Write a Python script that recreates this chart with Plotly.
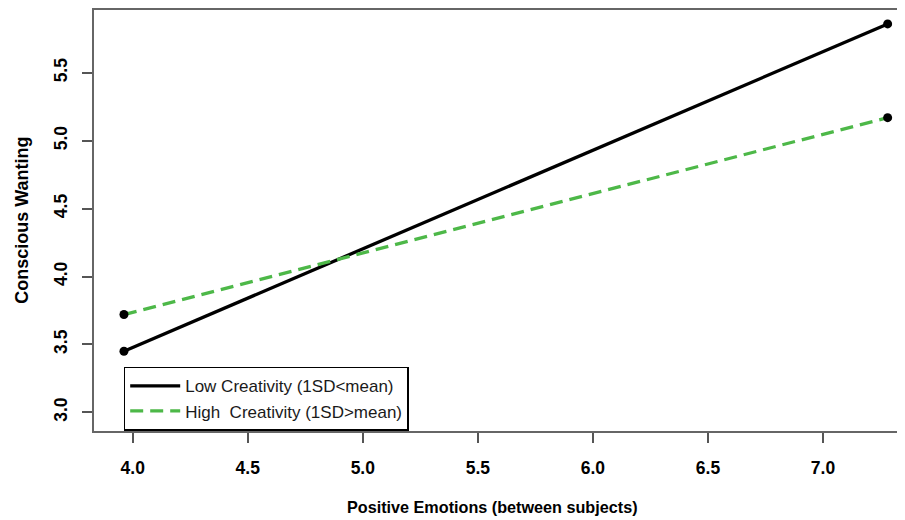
import plotly.graph_objects as go

# Data
x_vals = [3.962, 7.281]
low_creativity = [3.45, 5.86]
high_creativity = [3.72, 5.17]
series_names = ["Low Creativity (1SD<mean)", "High\u00a0 Creativity (1SD>mean)"]
x_ticks = [4.0, 4.5, 5.0, 5.5, 6.0, 6.5, 7.0]
y_ticks = [3.0, 3.5, 4.0, 4.5, 5.0, 5.5]

GREEN = "#4DB848"
FONT = "Liberation Sans, Arial, sans-serif"

fig = go.Figure()
fig.add_trace(go.Scatter(x=x_vals, y=low_creativity, mode="lines", name=series_names[0],
                         line=dict(color="black", width=3.3)))
fig.add_trace(go.Scatter(x=x_vals, y=high_creativity, mode="lines", name=series_names[1],
                         line=dict(color=GREEN, width=3.3, dash="13px,7px")))
fig.add_trace(go.Scatter(x=x_vals, y=low_creativity, mode="markers", showlegend=False,
                         marker=dict(color="black", size=9)))
fig.add_trace(go.Scatter(x=x_vals, y=high_creativity, mode="markers", showlegend=False,
                         marker=dict(color="black", size=9)))

axis_common = dict(showgrid=False, zeroline=False, showline=False, ticks="outside",
                   ticklen=10, tickwidth=1.5, tickcolor="#555555",
                   tickfont=dict(family=FONT, size=17.5, color="black", weight="bold"))

# The page body adds an 8px offset, so the figure is 897x512 and margins are reduced by 8.
fig.update_layout(
    width=897, height=512,
    margin=dict(l=85, r=0, t=1, b=88),
    paper_bgcolor="white", plot_bgcolor="white",
    showlegend=True,
    legend=dict(x=0.0378, y=0.003, xanchor="left", yanchor="bottom",
                bordercolor="black", borderwidth=1.5, bgcolor="white",
                font=dict(family=FONT, size=17, color="#1a1a1a"),
                tracegroupgap=0, itemwidth=50),
    xaxis=dict(range=[3.8275, 7.3564], tickvals=x_ticks, tickformat=".1f",
               ticklabelstandoff=10, **axis_common),
    yaxis=dict(range=[2.855, 5.970], tickvals=y_ticks, tickformat=".1f",
               tickangle=-90, ticklabelstandoff=8, **axis_common),
    shapes=[dict(type="rect", xref="paper", yref="paper", x0=0, x1=1.05, y0=0, y1=1,
                 line=dict(color="#666666", width=2), layer="above")],
    annotations=[
        dict(text="<b>Positive Emotions (between subjects)</b>", xref="paper", yref="paper",
             x=0.4914, y=-0.1766, xanchor="center", yanchor="middle", showarrow=False,
             font=dict(family=FONT, size=16.2, color="black")),
        dict(text="<b>Conscious Wanting</b>", xref="paper", yref="paper",
             x=-0.0878, y=0.501, xanchor="center", yanchor="middle", showarrow=False,
             textangle=-90, font=dict(family=FONT, size=18, color="black")),
    ],
)

fig.write_html("out.html")
